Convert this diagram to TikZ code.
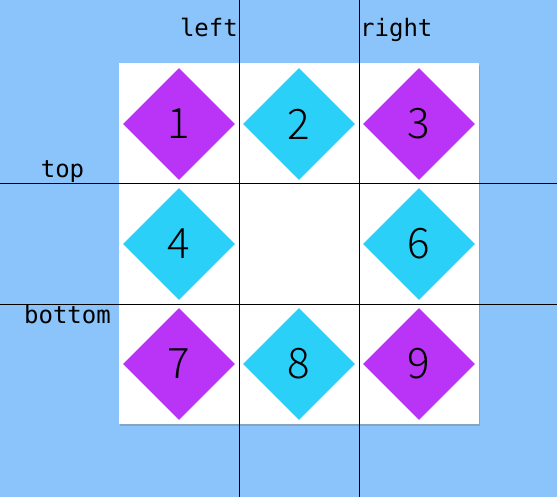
\documentclass[tikz,border=0pt]{standalone}
\usepackage{fontspec}
\newfontfamily\numfont{Noto Sans CJK SC Light}
\newfontfamily\labfont{DejaVu Sans Mono}
\usetikzlibrary{shapes.geometric,shadows}
\definecolor{bgblue}{RGB}{138,196,250}
\definecolor{dpurple}{RGB}{185,52,246}
\definecolor{dcyan}{RGB}{42,208,248}
\tikzset{
  tile/.style={diamond, aspect=1, minimum width=112pt, minimum height=112pt, inner sep=0pt, font=\numfont\fontsize{42}{42}\selectfont, text=black},
  ptile/.style={tile, fill=dpurple},
  ctile/.style={tile, fill=dcyan},
  lab/.style={inner sep=0pt, font=\labfont\fontsize{24}{24}\selectfont, text=black},
  gridline/.style={black, line width=1pt}
}
\begin{document}
\begin{tikzpicture}[x=1pt,y=-1pt]
\fill[bgblue] (0,0) rectangle (557,497);
\useasboundingbox (0,0) rectangle (557,497);
\fill[white, drop shadow={opacity=0.45, shadow xshift=1pt, shadow yshift=-2.5pt}] (119,63.5) rectangle (479,423.5);
% grid line ends
\coordinate (vl1) at (239.5,0);  \coordinate (vl2) at (239.5,497);
\coordinate (vr1) at (359.5,0);  \coordinate (vr2) at (359.5,497);
\coordinate (ht1) at (0,184);    \coordinate (ht2) at (557,184);
\coordinate (hb1) at (0,304);    \coordinate (hb2) at (557,304);
\draw[gridline] (vl1) -- (vl2);
\draw[gridline] (vr1) -- (vr2);
\draw[gridline] (ht1) -- (ht2);
\draw[gridline] (hb1) -- (hb2);
% diamonds
\node[ptile] (d1) at (179,124) {1};
\node[ctile] (d2) at (299,124) {2};
\node[ptile] (d3) at (419,124) {3};
\node[ctile] (d4) at (179,244) {4};
\node[ctile] (d6) at (419,244) {6};
\node[ptile] (d7) at (179,364) {7};
\node[ctile] (d8) at (299,364) {8};
\node[ptile] (d9) at (419,364) {9};
% labels
\node[lab, anchor=base east] (lleft) at (238,36.5) {left};
\node[lab, anchor=base west] (lright) at (360,36.5) {right};
\node[lab, anchor=base] (ltop) at (62.5,178) {top};
\node[lab, anchor=base east] (lbottom) at (111,323) {bottom};
\end{tikzpicture}
\end{document}
